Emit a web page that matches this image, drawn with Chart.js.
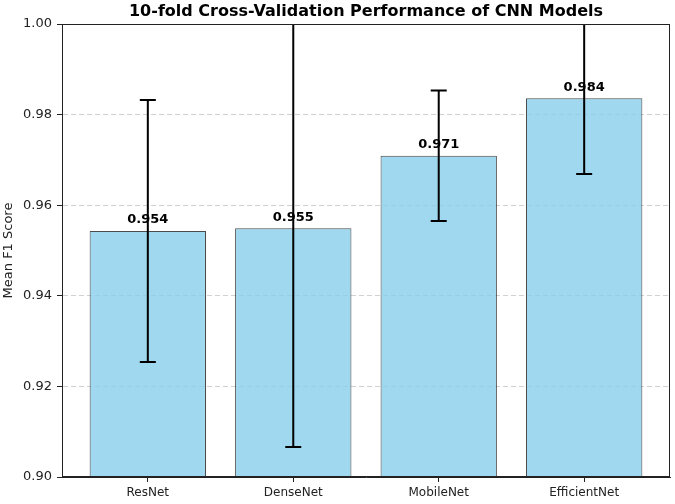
<!DOCTYPE html>
<html>
<head>
<meta charset="utf-8">
<script src="https://cdn.jsdelivr.net/npm/chart.js@4"></script>
<style>
  body { margin: 0; background: #fff; }
</style>
</head>
<body>
<canvas id="myChart" width="675" height="504"></canvas>
<script>
const models = ['ResNet', 'DenseNet', 'MobileNet', 'EfficientNet'];
const meanF1 = [0.9543, 0.9549, 0.9709, 0.9836];
const stdF1 = [0.0289, 0.0483, 0.0144, 0.0167];
const yTicks = [0.90, 0.92, 0.94, 0.96, 0.98, 1.00];

const font = 'DejaVu Sans';

// error bars + value labels + title + box
const extras = {
    id: 'extras',
    afterDatasetsDraw(chart) {
        const {ctx, chartArea, scales: {x, y}} = chart;
        ctx.save();
        ctx.beginPath();
        ctx.rect(chartArea.left, chartArea.top, chartArea.right - chartArea.left, chartArea.bottom - chartArea.top);
        ctx.clip();
        ctx.strokeStyle = '#000';
        ctx.lineWidth = 2;
        meanF1.forEach((m, i) => {
            const px = x.getPixelForValue(i);
            const top = y.getPixelForValue(m + stdF1[i]);
            const bot = y.getPixelForValue(m - stdF1[i]);
            ctx.beginPath();
            ctx.moveTo(px, top); ctx.lineTo(px, bot);
            ctx.moveTo(px - 8, top); ctx.lineTo(px + 8, top);
            ctx.moveTo(px - 8, bot); ctx.lineTo(px + 8, bot);
            ctx.stroke();
        });
        ctx.restore();

        ctx.save();
        ctx.fillStyle = '#000';
        ctx.font = `bold 13px "${font}"`;
        ctx.textAlign = 'center';
        ctx.textBaseline = 'bottom';
        meanF1.forEach((m, i) => {
            ctx.fillText(m.toFixed(3), x.getPixelForValue(i), y.getPixelForValue(m + 0.001));
        });

        ctx.strokeStyle = '#222';
        ctx.lineWidth = 1;
        ctx.strokeRect(chartArea.left + 0.5, chartArea.top + 0.5, chartArea.right - chartArea.left - 1, chartArea.bottom - chartArea.top - 1);

        ctx.font = `bold 16px "${font}"`;
        ctx.textBaseline = 'middle';
        ctx.fillText('10-fold Cross-Validation Performance of CNN Models', (chartArea.left + chartArea.right) / 2, 12);
        ctx.restore();
    }
};

const ctx = document.getElementById('myChart');

new Chart(ctx, {
    type: 'bar',
    data: {
        datasets: [{
            label: 'Mean F1',
            data: meanF1.map((v, i) => ({x: i, y: v})),
            backgroundColor: 'rgba(135, 206, 235, 0.8)',
            borderColor: 'rgba(0, 0, 0, 0.7)',
            borderWidth: 1,
            borderSkipped: false,
            categoryPercentage: 1,
            barPercentage: 0.8
        }]
    },
    options: {
        responsive: false,
        animation: false,
        devicePixelRatio: 1,
        layout: { padding: { top: 24, left: 0, right: 5, bottom: 0 } },
        plugins: { legend: { display: false }, tooltip: { enabled: false } },
        scales: {
            x: {
                type: 'linear',
                min: -0.59,
                max: 3.59,
                offset: false,
                afterBuildTicks: axis => { axis.ticks = models.map((m, i) => ({value: i})); },
                afterFit: axis => { axis.height = 27; },
                ticks: {
                    callback: v => models[v],
                    color: '#222',
                    font: { family: font, size: 12 },
                    padding: 4,
                    maxRotation: 0,
                    autoSkip: false
                },
                grid: { offset: false, drawOnChartArea: false, tickLength: 5, tickColor: '#222', tickWidth: 1 },
                border: { color: '#222' }
            },
            y: {
                min: 0.90,
                max: 1.00,
                afterBuildTicks: axis => { axis.ticks = yTicks.map(v => ({value: v})); },
                afterFit: axis => { axis.width = 62; },
                ticks: {
                    callback: v => v.toFixed(2),
                    color: '#222',
                    font: { family: font, size: 13 },
                    padding: 5
                },
                grid: { color: 'rgba(0,0,0,0.18)', tickLength: 5, tickColor: '#222', tickWidth: 1, tickBorderDash: [] },
                border: { color: '#222', dash: [5, 3] },
                title: {
                    display: true,
                    text: 'Mean F1 Score',
                    color: '#222',
                    font: { family: font, size: 13 },
                    padding: { top: 1, bottom: 0 }
                }
            }
        }
    },
    plugins: [extras]
});
</script>
</body>
</html>
